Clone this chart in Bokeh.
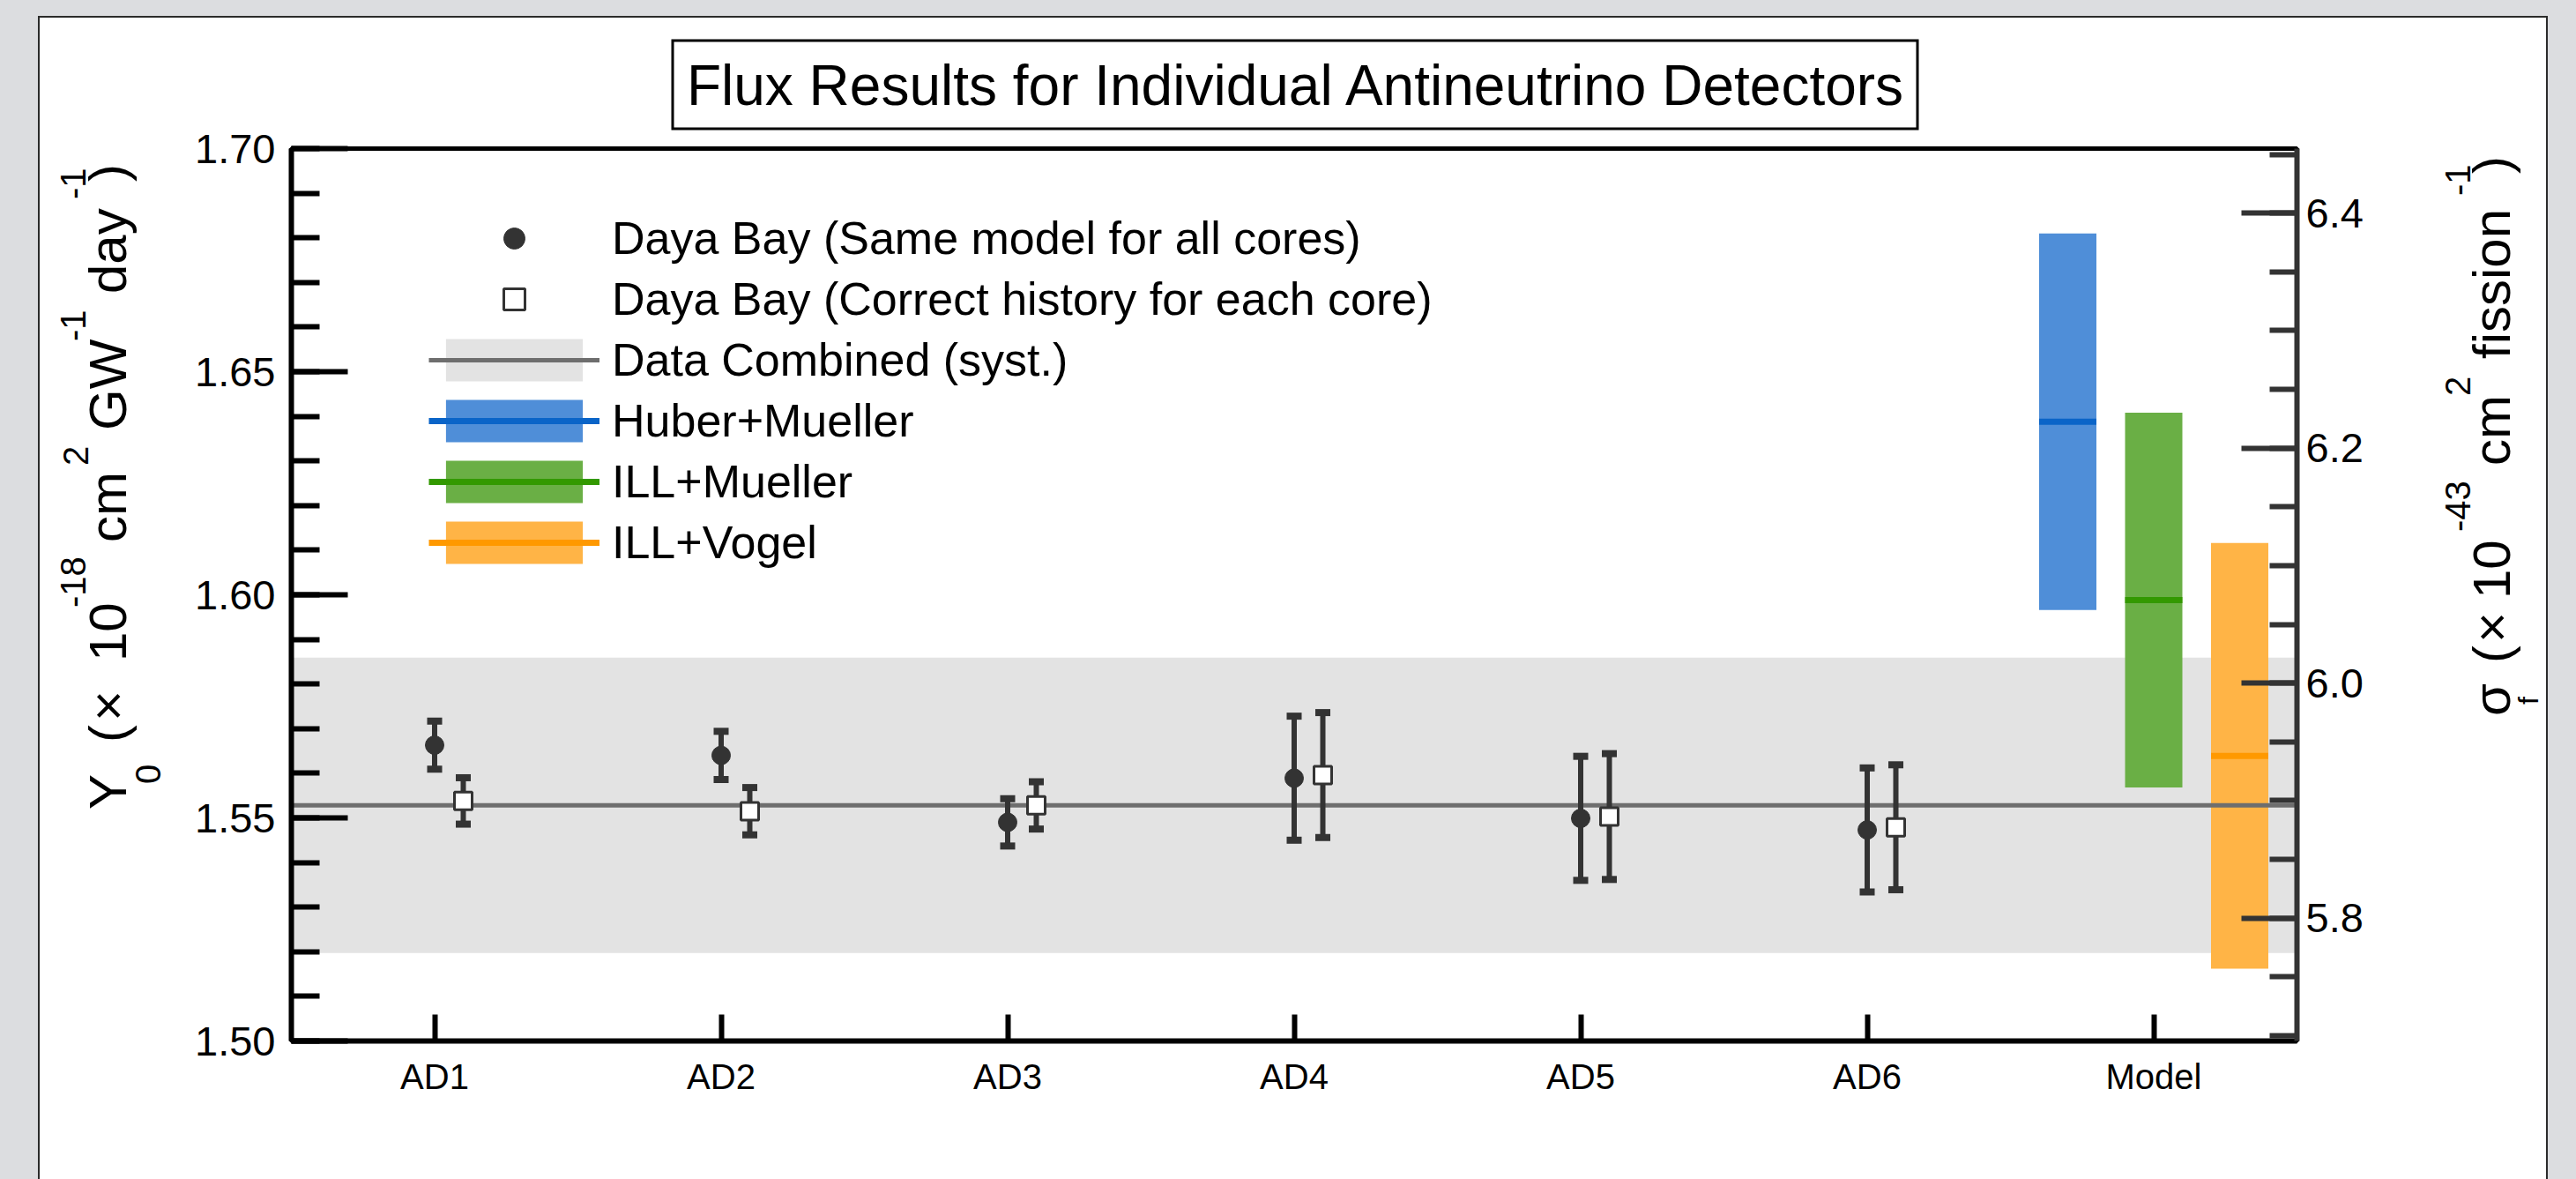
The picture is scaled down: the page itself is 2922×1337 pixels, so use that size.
import numpy as np
from bokeh.plotting import figure
from bokeh.models import (Range1d, FactorRange, LinearAxis, FixedTicker, Legend, Div,
                          LegendItem, NumeralTickFormatter, ColumnDataSource, GridBox)
from bokeh.transform import dodge
from bokeh.embed import file_html
from bokeh.resources import INLINE

# ---------------- data ----------------
detectors = ["AD1", "AD2", "AD3", "AD4", "AD5", "AD6"]
model_label = "Model"
y0_same_model = [1.5663, 1.5640, 1.5490, 1.5589, 1.5499, 1.5473]
y0_same_model_err = [0.0054, 0.0054, 0.0053, 0.0139, 0.0139, 0.0139]
y0_correct_history = [1.5538, 1.5515, 1.5528, 1.5596, 1.5503, 1.5479]
y0_correct_history_err = [0.0052, 0.0053, 0.0053, 0.0140, 0.0141, 0.0140]
combined_value = 1.5528
combined_syst = 0.0331
model_names = ["Huber+Mueller", "ILL+Mueller", "ILL+Vogel"]
model_values = [1.6388, 1.5988, 1.5639]
model_errs = [0.0422, 0.0420, 0.0477]
sigma_per_y0 = 3.797          # sigma_f (1e-43 cm2/fission) per Y0 (1e-18 cm2/GW/day)
y_ticks = [1.50, 1.55, 1.60, 1.65, 1.70]
sigma_ticks = [5.8, 6.0, 6.2, 6.4]
title_text = "Flux Results for Individual Antineutrino Detectors"

# ---------------- style ----------------
FONT = "Liberation Sans"
DARK = "#333333"
model_line_colors = ["#0a64c8", "#339900", "#ff9900"]
model_fill_colors = ["#4f8ed8", "#6aaf45", "#ffb446"]
model_offsets = [-0.3, 0.0, 0.3]
categories = detectors + [model_label]

W, H = 2843, 1317                 # white panel size
PANEL_X, PANEL_Y = 45, 20          # white panel position in the page
FR_L, FR_R, FR_T, FR_B = 330, 2605, 168, 1180   # plot frame in page pixels
MARGIN = (PANEL_Y, 2922 - PANEL_X - W, 0, PANEL_X)

# ================= data figure =================
p = figure(width=W, height=H, output_backend="svg", toolbar_location=None,
           x_range=FactorRange(factors=categories, range_padding=0),
           y_range=Range1d(y_ticks[0], y_ticks[-1]),
           min_border_left=FR_L - PANEL_X, min_border_right=W + PANEL_X - FR_R,
           min_border_top=FR_T - PANEL_Y, min_border_bottom=H + PANEL_Y - FR_B)
p.background_fill_alpha = 0
p.border_fill_alpha = 0
p.xgrid.visible = False
p.ygrid.visible = False
p.outline_line_color = "black"
p.outline_line_width = 5

# combined band
band_src = ColumnDataSource(dict(first=[categories[0]], last=[categories[-1]],
                                 lo=[combined_value - combined_syst],
                                 hi=[combined_value + combined_syst],
                                 mid=[combined_value]))
band = p.quad(left=dodge("first", -0.5, range=p.x_range), right=dodge("last", 0.5, range=p.x_range),
              bottom="lo", top="hi", source=band_src, fill_color="#e3e3e3", line_color=None)

# model bands
model_bars, model_lines = [], []
model_srcs = []
for i, name in enumerate(model_names):
    src = ColumnDataSource(dict(cat=[model_label], lo=[model_values[i] - model_errs[i]],
                                hi=[model_values[i] + model_errs[i]], mid=[model_values[i]]))
    model_srcs.append(src)
    bar = p.vbar(x=dodge("cat", model_offsets[i], range=p.x_range), width=0.2, bottom="lo", top="hi",
                 source=src, fill_color=model_fill_colors[i], line_color=None)
    model_bars.append(bar)

band_line = p.segment(x0=dodge("first", -0.5, range=p.x_range), x1=dodge("last", 0.5, range=p.x_range),
                      y0="mid", y1="mid", source=band_src, line_color="#6e6e6e", line_width=5)

for i, src in enumerate(model_srcs):
    off = model_offsets[i]
    ln = p.segment(x0=dodge("cat", off - 0.1, range=p.x_range), x1=dodge("cat", off + 0.1, range=p.x_range),
                   y0="mid", y1="mid", source=src, line_color=model_line_colors[i], line_width=7)
    model_lines.append(ln)

# detector points
same = np.array(y0_same_model)
same_e = np.array(y0_same_model_err)
corr = np.array(y0_correct_history)
corr_e = np.array(y0_correct_history_err)
det_src = ColumnDataSource(dict(cat=detectors, same=same, same_lo=same - same_e, same_hi=same + same_e,
                                corr=corr, corr_lo=corr - corr_e, corr_hi=corr + corr_e))
xs_same = "cat"
xs_corr = dodge("cat", 0.1, range=p.x_range)
for xx, lo, hi in [(xs_same, "same_lo", "same_hi"), (xs_corr, "corr_lo", "corr_hi")]:
    p.segment(x0=xx, x1=xx, y0=lo, y1=hi, source=det_src, line_color=DARK, line_width=6)
    for yy in (lo, hi):
        p.rect(x=xx, y=yy, width=17, height=8, width_units="screen", height_units="screen",
               source=det_src, fill_color=DARK, line_color=None)
circ = p.scatter(x=xs_same, y="same", source=det_src, marker="circle", size=21,
                 fill_color=DARK, line_color=DARK)
sq = p.scatter(x=xs_corr, y="corr", source=det_src, marker="square", size=20,
               fill_color="white", line_color=DARK, line_width=3)

# axes
yax = p.yaxis[0]
yax.ticker = FixedTicker(ticks=y_ticks, minor_ticks=list(np.round(np.arange(1.50, 1.7001, 0.01), 2)))
yax.formatter = NumeralTickFormatter(format="0.00")
xax = p.xaxis[0]
for ax in (yax, xax):
    ax.axis_line_color = "black"
    ax.axis_line_width = 6
    ax.major_tick_line_color = "black"
    ax.major_tick_line_width = 6
    ax.minor_tick_line_color = "black"
    ax.minor_tick_line_width = 6
    ax.major_tick_out = 0
    ax.minor_tick_out = 0
    ax.major_label_text_font = FONT
    ax.major_label_text_color = "black"
yax.major_tick_in = 64
yax.minor_tick_in = 32
yax.major_label_text_font_size = "47px"
yax.major_label_standoff = 18
xax.major_tick_in = 30
xax.major_label_text_font_size = "40px"
xax.major_label_standoff = 18

p.extra_y_ranges = {"sigma": Range1d(y_ticks[0] * sigma_per_y0, y_ticks[-1] * sigma_per_y0)}
rax = LinearAxis(y_range_name="sigma",
                 ticker=FixedTicker(ticks=sigma_ticks,
                                    minor_ticks=list(np.round(np.arange(5.70, 6.451, 0.05), 2))),
                 formatter=NumeralTickFormatter(format="0.0"))
rax.axis_line_color = DARK
rax.axis_line_width = 6
rax.major_tick_line_color = DARK
rax.major_tick_line_width = 6
rax.minor_tick_line_color = DARK
rax.minor_tick_line_width = 6
rax.major_tick_in = 63
rax.major_tick_out = 0
rax.minor_tick_in = 31
rax.minor_tick_out = 0
rax.major_label_text_font = FONT
rax.major_label_text_font_size = "47px"
rax.major_label_text_color = "black"
rax.major_label_standoff = 10
p.add_layout(rax, "right")

# legend
legend = Legend(items=[
    LegendItem(label="Daya Bay (Same model for all cores)", renderers=[circ]),
    LegendItem(label="Daya Bay (Correct history for each core)", renderers=[sq]),
    LegendItem(label="Data Combined (syst.)", renderers=[band, band_line]),
    LegendItem(label=model_names[0], renderers=[model_bars[0], model_lines[0]]),
    LegendItem(label=model_names[1], renderers=[model_bars[1], model_lines[1]]),
    LegendItem(label=model_names[2], renderers=[model_bars[2], model_lines[2]]),
], location=(486 - FR_L, FR_B - 645), orientation="vertical",
    glyph_width=194, glyph_height=60, label_height=60, spacing=9, padding=0, margin=0,
    border_line_color=None, background_fill_alpha=0,
    label_text_font=FONT, label_text_font_size="52px", label_text_color="black",
    label_standoff=14, label_text_baseline="middle")
p.add_layout(legend)
p.margin = MARGIN

# ================= white panel underneath, with title and axis titles as SVG text =================
# pieces: (text, font size, baseline x in page px, start y in page px); read bottom-to-top
left_title = [("Y", 60, 143, 918), ("0", 40, 182, 889), ("(", 60, 143, 842),
              ("&#215;", 60, 143, 818), ("10", 60, 143, 750), ("-18", 40, 97, 689),
              ("cm", 60, 143, 615), ("2", 40, 100, 528), ("GW", 60, 143, 488),
              ("-1", 40, 97, 387), ("day", 60, 143, 333), ("-1", 40, 97, 226),
              (")", 60, 143, 206)]
right_title = [("&#963;", 60, 2847, 812), ("f", 32, 2879, 799), ("(", 60, 2847, 752),
               ("&#215;", 60, 2847, 729), ("10", 60, 2847, 679), ("-43", 40, 2802, 603),
               ("cm", 60, 2847, 528), ("2", 40, 2802, 449), ("fission", 60, 2847, 407),
               ("-1", 40, 2802, 222), (")", 60, 2847, 197)]


def rotated_text(pieces):
    spans = "".join(
        f'<tspan x="{-(sy - PANEL_Y)}" y="{bx - PANEL_X}" font-size="{s}">{t}</tspan>'
        for t, s, bx, sy in pieces)
    return (f'<text transform="rotate(-90)" font-family="{FONT}" fill="black" '
            f'xml:space="preserve">{spans}</text>')


TBOX = (763, 46, 1412, 100)   # title box x, y, w, h in page px
svg = (
    f'<svg xmlns="http://www.w3.org/2000/svg" width="{W}" height="{H}" '
    f'style="position:absolute;left:0;top:0;display:block">'
    f'<rect x="{TBOX[0] - PANEL_X}" y="{TBOX[1] - PANEL_Y}" width="{TBOX[2]}" height="{TBOX[3]}" '
    f'fill="white" stroke="black" stroke-width="3"/>'
    f'<text x="{TBOX[0] - PANEL_X + TBOX[2] / 2}" y="{TBOX[1] - PANEL_Y + 73}" text-anchor="middle" '
    f'font-family="{FONT}" font-size="64" fill="black">{title_text}</text>'
    + rotated_text(left_title) + rotated_text(right_title) +
    '</svg>'
)
panel = Div(text=svg, width=W, height=H, margin=MARGIN,
            styles={"background-color": "white", "box-shadow": "0 0 0 2px #2b2b2b",
                    "position": "relative", "overflow": "hidden"})

root = GridBox(children=[(panel, 0, 0), (p, 0, 0)], width=2922, height=1337,
               styles={"background-color": "#dcdde0"})

open("out.html", "w").write(file_html(root, INLINE))
